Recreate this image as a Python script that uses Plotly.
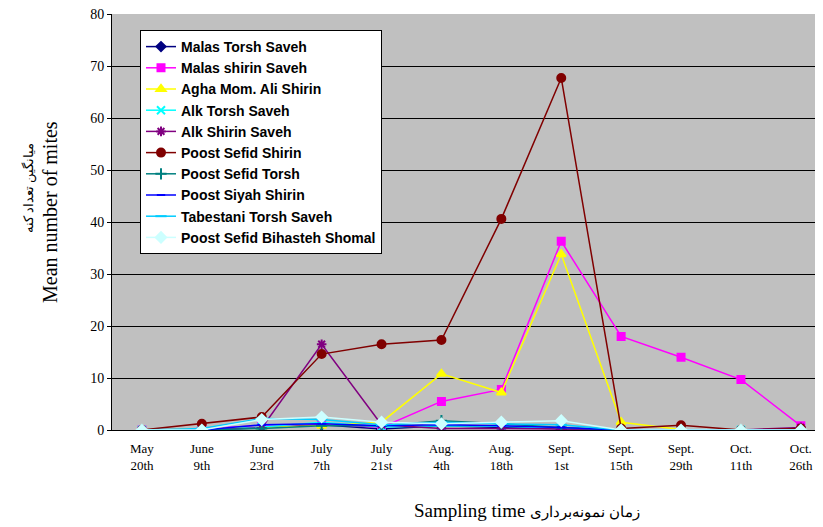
import plotly.graph_objects as go

categories = ["May<br>20th", "June<br>9th", "June<br>23rd", "July<br>7th", "July<br>21st", "Aug.<br>4th",
              "Aug.<br>18th", "Sept.<br>1st", "Sept.<br>15th", "Sept.<br>29th", "Oct.<br>11th", "Oct.<br>26th"]

malas_torsh_saveh = [0, 0, 0.5, 1.0, 0.2, 0.8, 0.5, 0.2, 0, 0, 0, 0]
malas_shirin_saveh = [0, 0.3, 0.8, 1.2, 0.5, 5.5, 7.8, 36.3, 18.0, 14.0, 9.7, 0.8]
agha_mom_ali_shirin = [0, 0.2, 0.5, 0.8, 1.5, 10.8, 7.2, 33.8, 1.5, 0.1, 0, 0]
alk_torsh_saveh = [0, 0, 0.6, 1.5, 0.6, 0.8, 0.7, 0.3, 0, 0, 0, 0]
alk_shirin_saveh = [0, 0, 0.4, 16.5, 1.0, 0.3, 0.3, 0.2, 0, 0, 0, 0.5]
poost_sefid_shirin = [0, 1.2, 2.5, 14.6, 16.5, 17.3, 40.6, 67.7, 0.3, 0.9, 0, 0.3]
poost_sefid_torsh = [0, 0, 0.3, 0.8, 0.8, 1.8, 1.2, 0.5, 0, 0, 0, 0]
poost_siyah_shirin = [0, 0, 1.0, 1.2, 0.8, 1.0, 0.8, 0.5, 0, 0, 0, 0]
tabestani_torsh_saveh = [0, 0.3, 2.2, 2.0, 1.0, 1.5, 1.2, 1.0, 0, 0, 0, 0]
poost_sefid_bihasteh = [0, 0, 2.0, 2.5, 1.5, 1.2, 1.5, 1.8, 0, 0, 0, 0]

series = [
    ("Malas Torsh Saveh", malas_torsh_saveh, "#000080", "diamond", 7),
    ("Malas shirin Saveh", malas_shirin_saveh, "#FF00FF", "square", 7),
    ("Agha Mom. Ali Shirin", agha_mom_ali_shirin, "#FFFF00", "triangle-up", 8),
    ("Alk Torsh Saveh", alk_torsh_saveh, "#00FFFF", "x-thin-open", 8),
    ("Alk Shirin Saveh", alk_shirin_saveh, "#800080", "asterisk-open", 8),
    ("Poost Sefid Shirin", poost_sefid_shirin, "#800000", "circle", 8),
    ("Poost Sefid Torsh", poost_sefid_torsh, "#008080", "cross-thin-open", 8),
    ("Poost Siyah Shirin", poost_siyah_shirin, "#0000FF", "line-ew-open", 6),
    ("Tabestani Torsh Saveh", tabestani_torsh_saveh, "#00CCFF", "line-ew-open", 8),
    ("Poost Sefid Bihasteh Shomal", poost_sefid_bihasteh, "#CCFFFF", "diamond", 8),
]

x_idx = list(range(len(categories)))

W, H = 815, 519
ML, MT, MB = 104, 6, 97
plot_w = W - ML
plot_h = H - MT - MB


def px_x(px):
    return (px - 8 - ML) / plot_w


def px_y(py):
    return 1 - (py - 8 - MT) / plot_h


fig = go.Figure()
for name, vals, color, sym, size in series:
    fig.add_trace(go.Scatter(
        x=x_idx, y=vals, name=name, mode="lines+markers",
        line=dict(color=color, width=1.5),
        marker=dict(symbol=sym, size=size, color=color, line=dict(color=color, width=2)),
    ))

fig.update_layout(
    width=W, height=H,
    margin=dict(l=ML, r=0, t=MT, b=MB),
    paper_bgcolor="white",
    plot_bgcolor="#C0C0C0",
    showlegend=True,
    legend=dict(
        x=px_x(140), y=px_y(30), xanchor="left", yanchor="top",
        bgcolor="white", bordercolor="black", borderwidth=1,
        font=dict(family="Liberation Sans", size=14, color="black", weight="bold"),
        tracegroupgap=0, itemwidth=30,
    ),
    xaxis=dict(
        tickmode="array", tickvals=x_idx, ticktext=categories,
        range=[-0.5, 11.37],
        showgrid=False, zeroline=False,
        showline=True, linecolor="black", linewidth=1,
        tickfont=dict(family="Liberation Serif", size=13, color="black"),
        ticks="outside", ticklen=6, tickcolor="rgba(0,0,0,0)",
        ticklabeloverflow="allow",
    ),
    yaxis=dict(
        range=[0, 80], dtick=10,
        showgrid=True, gridcolor="black", gridwidth=1,
        zeroline=False,
        showline=True, linecolor="black", linewidth=1,
        ticks="outside", ticklen=4, tickcolor="black",
        tickfont=dict(family="Liberation Serif", size=14, color="black"),
        ticklabeloverflow="allow",
    ),
    annotations=[
        dict(
            text="Sampling time <span style='font-size:15px'>زمان نمونه‌برداری</span>",
            x=px_x(527), xref="paper", y=px_y(510), yref="paper",
            yanchor="middle", xanchor="center", showarrow=False,
            font=dict(family="Liberation Serif", size=19, color="black"),
        ),
        dict(
            text="Mean number of mites",
            x=px_x(50), xref="paper", y=px_y(212), yref="paper",
            xanchor="center", yanchor="middle", textangle=-90, showarrow=False,
            font=dict(family="Liberation Serif", size=20, color="black"),
        ),
        dict(
            text="میانگین تعداد کنه",
            x=px_x(29), xref="paper", y=px_y(188), yref="paper",
            xanchor="center", yanchor="middle", textangle=-90, showarrow=False,
            font=dict(family="Liberation Serif", size=13, color="black"),
        ),
    ],
)

fig.write_html("out.html")
